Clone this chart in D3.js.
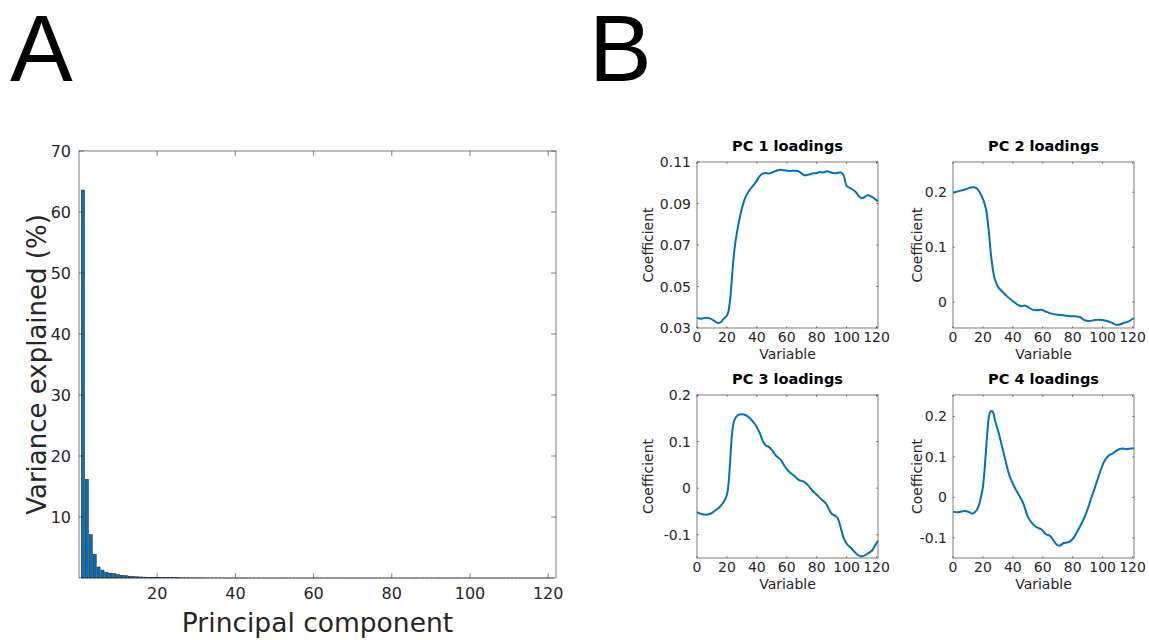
<!DOCTYPE html>
<html><head><meta charset="utf-8">
<script src="https://cdn.jsdelivr.net/npm/d3@7"></script>
<style>
body{margin:0;background:#fff}
text{font-family:"DejaVu Sans",sans-serif;fill:#262626}
</style></head>
<body><svg id="c" width="1149" height="640"></svg>
<script>
// ---------- DATA ----------
const varianceExplained = [
 63.6,16.2,7.1,3.9,1.8,1.3,0.95,0.8,0.7,0.55,
 0.45,0.38,0.3,0.25,0.2,0.17,0.14,0.12,0.1,0.09,
 0.08,0.07,0.06,0.05,0.045,0.04,0.035,0.03,0.027,0.024,
 0.021,0.019,0.017,0.015,0.013,0.012,0.011,0.01,0.009,0.008,
 0.0075,0.007,0.0065,0.006,0.0056,0.0052,0.0048,0.0045,0.0042,0.004,
 0.0037,0.0035,0.0033,0.0031,0.0029,0.0027,0.0025,0.0024,0.0023,0.0022,
 0.0021,0.002,0.0019,0.0018,0.0017,0.0016,0.0015,0.0014,0.0014,0.0013,
 0.0013,0.0012,0.0012,0.0011,0.0011,0.001,0.001,0.0009,0.0009,0.0009,
 0.0008,0.0008,0.0008,0.0007,0.0007,0.0007,0.0006,0.0006,0.0006,0.0006,
 0.0005,0.0005,0.0005,0.0005,0.0004,0.0004,0.0004,0.0004,0.0004,0.0003,
 0.0003,0.0003,0.0003,0.0003,0.0002,0.0002,0.0002,0.0002,0.0002,0.0002,
 0.0001,0.0001,0.0001,0.0001,0.0001,0.0001,0.0001,0.0001,0.0001,0.0001,
 0.0001
];
const componentIds = varianceExplained.map((d,i)=>i+1);
const varianceTicks = [10,20,30,40,50,60,70];
const componentTicks = [20,40,60,80,100,120];

const pc1Loadings = [[0,0.0348],[3,0.0345],[6,0.035],[9,0.0345],[12,0.0332],[14,0.0324],[16,0.0329],[18,0.0345],[20,0.036],[21,0.038],[22,0.0428],[23,0.0508],[24,0.060],[25,0.0676],[26,0.073],[28,0.081],[30,0.0876],[32,0.0924],[35,0.0964],[38,0.099],[40,0.101],[42,0.1033],[44,0.1044],[46,0.1047],[48,0.1044],[50,0.1049],[52,0.1055],[55,0.1062],[58,0.106],[62,0.1057],[66,0.1058],[68,0.1055],[70,0.1044],[72,0.1036],[75,0.104],[78,0.1046],[80,0.1046],[82,0.1052],[84,0.1049],[87,0.1055],[90,0.1049],[93,0.1046],[96,0.105],[98,0.1036],[100,0.0985],[103,0.0972],[106,0.0956],[109,0.0929],[111,0.0927],[114,0.094],[117,0.0932],[120,0.0916],[121,0.0911]];
const pc2Loadings = [[0,0.199],[4,0.202],[8,0.205],[12,0.2086],[14,0.209],[16,0.2067],[18,0.199],[20,0.188],[22,0.17],[23,0.152],[24,0.127],[25,0.097],[26,0.072],[27,0.054],[28,0.0416],[30,0.028],[33,0.019],[36,0.011],[40,0.0018],[43,-0.0043],[46,-0.0073],[48,-0.006],[50,-0.0086],[53,-0.0135],[56,-0.0147],[59,-0.014],[62,-0.017],[66,-0.0208],[70,-0.023],[74,-0.024],[78,-0.0257],[82,-0.0257],[85,-0.0275],[88,-0.033],[91,-0.0343],[94,-0.033],[97,-0.0318],[100,-0.0324],[103,-0.0343],[106,-0.0373],[109,-0.041],[111,-0.041],[114,-0.038],[117,-0.0355],[120,-0.0306],[121,-0.029]];
const pc3Loadings = [[0,-0.0514],[3,-0.0557],[6,-0.057],[9,-0.055],[12,-0.0486],[15,-0.041],[18,-0.0286],[20,-0.014],[21,0.007],[22,0.05],[23,0.1],[24,0.132],[25,0.146],[27,0.156],[30,0.1586],[33,0.156],[36,0.148],[39,0.136],[42,0.118],[44,0.101],[46,0.0914],[48,0.0886],[50,0.082],[53,0.069],[56,0.0607],[59,0.045],[62,0.034],[65,0.0264],[68,0.0179],[71,0.0143],[74,0.007],[77,-0.005],[80,-0.014],[83,-0.0236],[86,-0.032],[88,-0.044],[90,-0.055],[92,-0.0586],[94,-0.064],[96,-0.084],[98,-0.107],[100,-0.119],[103,-0.1286],[106,-0.139],[109,-0.146],[111,-0.146],[114,-0.1407],[117,-0.134],[120,-0.118],[121,-0.113]];
const pc4Loadings = [[0,-0.0354],[3,-0.037],[5,-0.0354],[8,-0.0338],[11,-0.037],[13,-0.0404],[15,-0.0354],[17,-0.023],[19,0.0058],[20,0.026],[21,0.063],[22,0.113],[23,0.162],[24,0.1995],[25,0.212],[26,0.2135],[27,0.208],[28,0.191],[30,0.1665],[32,0.1377],[35,0.092],[38,0.051],[41,0.026],[44,0.0058],[47,-0.0148],[50,-0.0478],[53,-0.0643],[56,-0.074],[59,-0.079],[62,-0.091],[65,-0.0956],[67,-0.1055],[69,-0.116],[71,-0.1195],[74,-0.113],[77,-0.111],[80,-0.103],[83,-0.085],[86,-0.064],[89,-0.0396],[92,-0.0066],[95,0.026],[98,0.059],[101,0.088],[104,0.103],[107,0.109],[110,0.117],[113,0.121],[116,0.119],[119,0.121],[121,0.121]];

const variableTicks = [0,20,40,60,80,100,120];
const pc1Ticks = [0.03,0.05,0.07,0.09,0.11];
const pc2Ticks = [0,0.1,0.2];
const pc3Ticks = [-0.1,0,0.1,0.2];
const pc4Ticks = [-0.1,0,0.1,0.2];
const subplotTitles = ["PC 1 loadings","PC 2 loadings","PC 3 loadings","PC 4 loadings"];

// ---------- DRAW ----------
const svg = d3.select("#c");
const AX = "#262626";
const BLUE = "#0072BD";
const fmt = v => (v < 0 ? "-" : "") + String(Math.abs(+v.toFixed(3)));

function frame(g, x, y, xT, yT, tl, fs, xLabGap, yLabGap, showXLab) {
  const [x0,x1] = x.range(), [y0,y1] = y.range(); // y0 bottom
  xT.forEach(t => {
    const px = x(t);
    g.append("line").attr("x1",px).attr("x2",px).attr("y1",y0).attr("y2",y0-tl).attr("stroke",AX).attr("stroke-width",0.6);
    g.append("line").attr("x1",px).attr("x2",px).attr("y1",y1).attr("y2",y1+tl).attr("stroke",AX).attr("stroke-width",0.6);
    if (showXLab) g.append("text").attr("x",px).attr("y",y0+xLabGap).attr("text-anchor","middle").attr("font-size",fs).text(fmt(t));
  });
  yT.forEach(t => {
    const py = y(t);
    g.append("line").attr("x1",x0).attr("x2",x0+tl).attr("y1",py).attr("y2",py).attr("stroke",AX).attr("stroke-width",0.6);
    g.append("line").attr("x1",x1).attr("x2",x1-tl).attr("y1",py).attr("y2",py).attr("stroke",AX).attr("stroke-width",0.6);
    g.append("text").attr("x",x0-yLabGap).attr("y",py).attr("dy","0.36em").attr("text-anchor","end").attr("font-size",fs).text(fmt(t));
  });
  g.append("rect").attr("x",x0).attr("y",y1).attr("width",x1-x0).attr("height",y0-y1)
   .attr("fill","none").attr("stroke",AX).attr("stroke-width",0.6);
}

// Panel letters
svg.append("text").attr("x",10).attr("y",81).attr("font-size",94).style("font-family","'Liberation Sans',Arial,sans-serif").style("fill","#000").text("A");
svg.append("text").attr("x",589).attr("y",81).attr("font-size",94).style("font-family","'Liberation Sans',Arial,sans-serif").style("fill","#000").text("B");

// Panel A
const gA = svg.append("g");
const xA = d3.scaleLinear().domain([0,122]).range([79,556]);
const yA = d3.scaleLinear().domain([0,70]).range([578,151]);
const bw = 0.8*(xA(1)-xA(0));
gA.selectAll("rect.bar").data(varianceExplained).join("rect").attr("class","bar")
  .attr("x",(d,i)=>xA(componentIds[i])-bw/2).attr("width",bw)
  .attr("y",d=>yA(d)).attr("height",d=>yA(0)-yA(d))
  .attr("fill",BLUE).attr("stroke","#1a1a1a").attr("stroke-width",0.5);
frame(gA, xA, yA, componentTicks, varianceTicks, 4.8, 16, 21, 8, true);
gA.append("text").attr("transform","translate(46,"+((151+578)/2)+") rotate(-90)").attr("text-anchor","middle").attr("font-size",26).text("Variance explained (%)");
gA.append("text").attr("x",(79+556)/2).attr("y",632).attr("text-anchor","middle").attr("font-size",26.5).text("Principal component");

// Panel B
const subplots = [
  {data:pc1Loadings, yd:[0.03,0.11], yt:pc1Ticks, l:697, r:878, t:162, b:328, yl:653},
  {data:pc2Loadings, yd:[-0.047,0.255], yt:pc2Ticks, l:953, r:1134, t:162, b:328, yl:922},
  {data:pc3Loadings, yd:[-0.15,0.2], yt:pc3Ticks, l:697, r:878, t:395, b:558, yl:653},
  {data:pc4Loadings, yd:[-0.15,0.253], yt:pc4Ticks, l:953, r:1134, t:395, b:558, yl:922}
];
subplots.forEach((s,k) => {
  const g = svg.append("g");
  const x = d3.scaleLinear().domain([0,121]).range([s.l,s.r]);
  const y = d3.scaleLinear().domain(s.yd).range([s.b,s.t]);
  frame(g, x, y, variableTicks, s.yt, 1.8, 14, 14, 6, true);
  const line = d3.line().x(d=>x(d[0])).y(d=>y(d[1])).curve(d3.curveCatmullRom.alpha(0.5));
  g.append("path").datum(s.data).attr("d",line).attr("fill","none").attr("stroke",BLUE).attr("stroke-width",2);
  g.append("text").attr("x",(s.l+s.r)/2).attr("y",s.t-11).attr("text-anchor","middle").attr("font-size",14.5).attr("font-weight","bold").style("fill","#000").text(subplotTitles[k]);
  g.append("text").attr("x",(s.l+s.r)/2).attr("y",s.b+31).attr("text-anchor","middle").attr("font-size",14).text("Variable");
  g.append("text").attr("transform","translate("+s.yl+","+((s.t+s.b)/2)+") rotate(-90)").attr("text-anchor","middle").attr("font-size",14).text("Coefficient");
});
</script></body></html>
